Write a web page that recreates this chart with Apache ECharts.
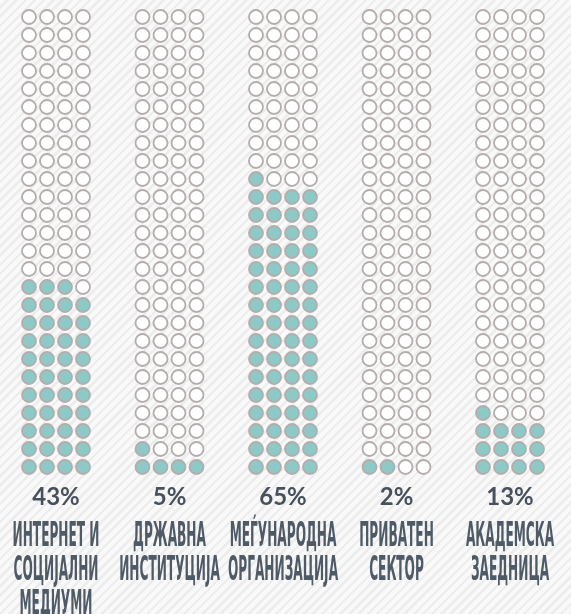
<!DOCTYPE html>
<html>
<head>
<meta charset="utf-8">
<script src="https://cdn.jsdelivr.net/npm/echarts@6/dist/echarts.min.js"></script>
<style>
  html, body { margin:0; padding:0; }
  body {
    width:571px; height:614px; overflow:hidden;
    background-color:#f9f9f9;
    background-image: repeating-linear-gradient(135deg, #f9f9f9 0px, #f9f9f9 4px, #ededed 4px, #ededed 6.5px);
  }
  #chart { width:571px; height:614px; }
</style>
</head>
<body>
<div id="chart"></div>
<script>
// ---- data ----
const categories = [
  ['ИНТЕРНЕТ И', 'СОЦИЈАЛНИ', 'МЕДИУМИ'],
  ['ДРЖАВНА', 'ИНСТИТУЦИЈА'],
  ['МЕЃУНАРОДНА', 'ОРГАНИЗАЦИЈА'],
  ['ПРИВАТЕН', 'СЕКТОР'],
  ['АКАДЕМСКА', 'ЗАЕДНИЦА']
];
const values = [43, 5, 65, 2, 13];
const valueLabels = ['43%', '5%', '65%', '2%', '13%'];
const dotCols = ['0', '1', '2', '3'];
const dotRows = Array.from({length: 26}, (_, i) => String(i));

// ---- layout ----
const FILL = '#8dc9c6';
const EMPTY = '#ffffff';
const BORDER = '#b3adab';
const TEXT = '#47515e';

const grids = [], xAxes = [], yAxes = [], series = [];
values.forEach((v, g) => {
  grids.push({ left: 20 + 113.5 * g, width: 72, top: 8, height: 468 });
  xAxes.push({ type: 'category', gridIndex: g, data: dotCols, show: false });
  yAxes.push({ type: 'category', gridIndex: g, data: dotRows, show: false });
  const data = [];
  for (let r = 0; r < dotRows.length; r++) {
    for (let c = 0; c < dotCols.length; c++) {
      const idx = r * dotCols.length + c;
      const filled = idx < v;
      data.push({ value: [c, r], itemStyle: { color: filled ? FILL : EMPTY } });
    }
  }
  series.push({
    type: 'scatter', xAxisIndex: g, yAxisIndex: g, data,
    symbol: 'circle', symbolSize: 14, silent: true, animation: false,
    itemStyle: { borderColor: BORDER, borderWidth: 1.8, opacity: 1 }
  });
  series.push({
    type: 'custom', xAxisIndex: g, yAxisIndex: g, animation: false, silent: true,
    data: [[0, 0]],
    renderItem: function (params, api) {
      const a = api.coord([0, 0]);
      const b = api.coord([3, 0]);
      const cx = (a[0] + b[0]) / 2;
      const base = a[1] + 9; // bottom edge of dot grid
      const children = [{
        type: 'text', x: cx, y: base + 21.5,
        style: { text: valueLabels[g], fill: TEXT, font: 'bold 24px Lato, "Open Sans", sans-serif',
                 textAlign: 'center', textVerticalAlign: 'middle', align: 'center', verticalAlign: 'middle' }
      }];
      categories[g].forEach((line, i) => {
        children.push({
          type: 'text', x: cx, y: base + 61 + 34 * i, scaleX: 0.9, scaleY: 2.25,
          style: { text: line, fill: '#4f5a67', font: 'bold 15px "Liberation Sans Narrow", "DejaVu Sans Condensed", sans-serif',
                   textAlign: 'center', textVerticalAlign: 'middle', align: 'center', verticalAlign: 'middle' }
        });
      });
      return { type: 'group', children };
    }
  });
});

const chart = echarts.init(document.getElementById('chart'), null, { renderer: 'canvas' });
chart.setOption({
  backgroundColor: 'transparent',
  animation: false,
  grid: grids, xAxis: xAxes, yAxis: yAxes, series
});
</script>
</body>
</html>
